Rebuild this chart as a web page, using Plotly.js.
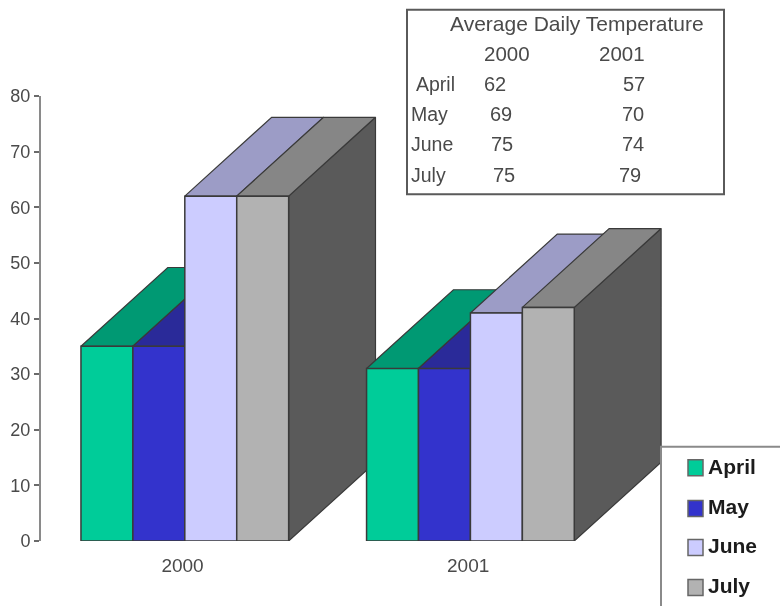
<!DOCTYPE html>
<html>
<head>
<meta charset="utf-8">
<script src="https://cdn.plot.ly/plotly-3.0.1.min.js"></script>
<style>html,body{margin:0;padding:0;background:#fff}#chart{width:780px;height:606px;filter:blur(0.5px)}</style>
</head>
<body>
<div id="chart"></div>
<script>
// ---- data ----
const years = ["2000", "2001"];
const months = ["April", "May", "June", "July"];
const april = [35, 31];
const may = [35, 31];
const june = [62, 41];
const july = [62, 42];

// ---- inset table text ----
const tableTitle = "Average Daily Temperature";
const tableYears = ["2000", "2001"];
const tableMonths = ["April", "May", "June", "July"];
const table2000 = ["62", "69", "75", "75"];
const table2001 = ["57", "70", "74", "79"];

// ---- styles ----
const frontColors = ["#00CC99", "#3333CC", "#CCCCFF", "#B2B2B2"];
const topColors = ["#009973", "#2A2A99", "#9C9CC6", "#868686"];
const sideColor = "#5A5A5A";
const edge = "#3a3a3a";
const textColor = "#4a4a4a";
const font = "Liberation Sans, Arial, sans-serif";

// ---- layout metrics ----
const W = 780, H = 606, L = 41, T = 95.5, B = 64.5;
const xRange = [-0.5035, 2.0839], yRange = [0, 80];
const barWidth = 0.1818;          // data units on the x axis
const depthX = 0.304, depthY = 14.17; // oblique depth in data units
const px = x => (x - L) / (W - L);
const py = y => (H - B - y) / (H - T - B);

const series = [april, may, june, july];
const traces = [];

// Side and top faces (base axes: always under the front faces on the overlay axes)
years.forEach((yr, g) => {
  series.forEach((vals, s) => {
    const v = vals[g];
    const x0 = g + (s - 2) * barWidth, x1 = x0 + barWidth;
    traces.push({
      type: "scatter", mode: "lines", fill: "toself", fillcolor: sideColor,
      x: [x1, x1 + depthX, x1 + depthX, x1, x1],
      y: [0, depthY, v + depthY, v, 0],
      line: {color: edge, width: 1.2}, hoverinfo: "skip", showlegend: false
    });
    traces.push({
      type: "scatter", mode: "lines", fill: "toself", fillcolor: topColors[s],
      x: [x0, x1, x1 + depthX, x0 + depthX, x0],
      y: [v, v, v + depthY, v + depthY, v],
      line: {color: edge, width: 1.2}, hoverinfo: "skip", showlegend: false
    });
  });
});

// Front faces
months.forEach((m, s) => {
  traces.push({
    type: "bar", name: m, x: years.map((_, i) => i), y: series[s],
    xaxis: "x2", yaxis: "y2",
    marker: {color: frontColors[s], line: {color: edge, width: 1.5}},
    showlegend: false
  });
});

// Inset table
const ann = [];
const note = (text, x, y, size, color, weight) => ann.push({
  xref: "paper", yref: "paper", x: px(x), y: py(y), text, showarrow: false,
  xanchor: "left", yanchor: "middle",
  font: {family: font, size, color, weight: weight || 400}
});
note(tableTitle, 448, 23, 21, textColor);
const yearCols = [482, 597];
tableYears.forEach((t, i) => note(t, yearCols[i], 53, 20.5, textColor));
const rowY = [83, 114, 144, 175];
const monthX = [414, 409, 409, 409];
const col2000X = [482, 488, 489, 491];
const col2001X = [621, 620, 620, 617];
tableMonths.forEach((t, i) => {
  note(t, monthX[i], rowY[i], 19.5, textColor);
  note(table2000[i], col2000X[i], rowY[i], 20, textColor);
  note(table2001[i], col2001X[i], rowY[i], 20, textColor);
});

// Legend box (cut off by the picture edge, as in the reference)
const shapes = [
  {type: "rect", xref: "paper", yref: "paper", x0: px(407), x1: px(724), y0: py(194), y1: py(9),
   line: {color: "#5a5a5a", width: 2}, fillcolor: "#fff", layer: "above"},
  {type: "rect", xref: "paper", yref: "paper", x0: px(661), x1: px(800), y0: py(630), y1: py(447),
   line: {color: "#8a8a8a", width: 2}, fillcolor: "#fff", layer: "above"}
];
const swatchY = [468, 509, 548, 588];
const legendTextY = [467, 507, 546, 586];
months.forEach((m, s) => {
  shapes.push({type: "rect", xref: "paper", yref: "paper",
    x0: px(688), x1: px(703), y0: py(swatchY[s] + 8), y1: py(swatchY[s] - 8),
    line: {color: "#666", width: 1.5}, fillcolor: frontColors[s], layer: "above"});
  note(m, 706, legendTextY[s], 21, "#1c1c1c", 600);
});

const axisBase = {range: xRange, fixedrange: true, zeroline: false, showgrid: false};
const layout = {
  width: W, height: H, autosize: false,
  margin: {l: L, r: 0, t: T, b: B, pad: 0},
  paper_bgcolor: "#fff", plot_bgcolor: "#fff",
  showlegend: false,
  barmode: "group", bargap: 1 - 4 * barWidth, bargroupgap: 0,
  font: {family: font, color: textColor},
  xaxis: Object.assign({}, axisBase, {
    tickmode: "array", tickvals: [-0.008, 0.992], ticktext: years,
    ticks: "", showline: false, tickfont: {size: 19, color: textColor}, ticklabelstandoff: 11
  }),
  xaxis2: Object.assign({}, axisBase, {overlaying: "x", visible: false}),
  yaxis: {
    range: yRange, tickmode: "array", tickvals: [0, 10, 20, 30, 40, 50, 60, 70, 80],
    ticks: "outside", ticklen: 5, tickwidth: 2, tickcolor: "#6a6a6a",
    showline: true, linecolor: "#8a8a8a", linewidth: 2, showgrid: false, zeroline: false,
    tickfont: {size: 18, color: textColor}, fixedrange: true, ticklabelshift: 1.5
  },
  yaxis2: {range: yRange, overlaying: "y", visible: false, fixedrange: true},
  annotations: ann, shapes
};
Plotly.newPlot("chart", traces, layout, {displayModeBar: false, staticPlot: true});
</script>
</body>
</html>
